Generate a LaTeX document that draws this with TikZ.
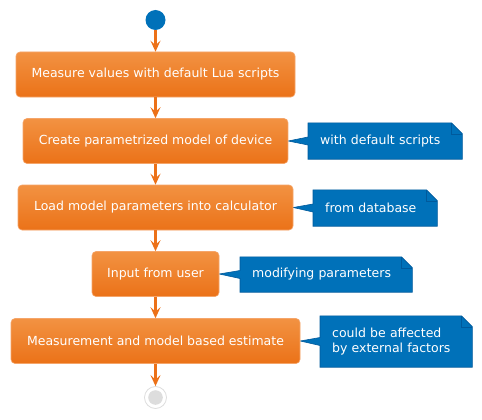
\documentclass[tikz,border=0pt]{standalone}
\usepackage{fontspec}
\setmainfont{DejaVu Sans}
\usepackage{xcolor}
\usepackage{tikz}
\usetikzlibrary{arrows.meta}
\usetikzlibrary{backgrounds}

\definecolor{boxtop}{HTML}{F29242}
\definecolor{boxbot}{HTML}{EB7218}
\definecolor{boxline}{HTML}{F5A56A}
\definecolor{flow}{HTML}{EC7118}
\definecolor{notefill}{HTML}{0071B9}
\definecolor{noteline}{HTML}{005A9C}
\definecolor{endgray}{HTML}{DDDDDD}

\tikzset{
    action/.style = {rectangle, rounded corners = 4pt, draw = boxline, line width = 0.6pt,
        top color = boxtop, bottom color = boxbot, text = white,
        font = \fontsize{12.5}{14}\selectfont, minimum height = 45pt},
    notebox/.style = {rectangle, inner xsep = 12pt, align = left, text = white,
        font = \fontsize{12.5}{15}\selectfont, anchor = west},
    flowarrow/.style = {draw = flow, line width = 2.6pt,
        -{Stealth[length = 11pt, width = 10pt, inset = 4.5pt]}}
}

\begin{document}
\begin{tikzpicture}[x = 1pt, y = -1pt]
            \useasboundingbox (0, 0) rectangle (482, 420);

            % start and stop
            \node[circle, fill = notefill, minimum size = 20pt, inner sep = 0pt] (start) at (155.5, 20) {};
            \node[circle, draw = endgray, line width = 0.8pt, minimum size = 22pt, inner sep = 0pt] (stop) at (155.5, 397.5) {};
            \fill[endgray] (stop) circle (7.3pt);

            % activities
            \node[action, minimum width = 279pt] (measure) at (155.5, 74.5) {Measure values with default Lua scripts};
            \node[action, minimum width = 265pt] (model) at (155.5, 141) {Create parametrized model of device};
            \node[action, minimum width = 275pt] (load) at (155.5, 207.5) {Load model parameters into calculator};
            \node[action, minimum width = 127pt] (input) at (155.5, 274) {Input from user};
            \node[action, minimum width = 289pt] (estimate) at (155.5, 341) {Measurement and model based estimate};

            \draw[flowarrow] (start) -- (measure);
            \draw[flowarrow] (measure) -- (model);
            \draw[flowarrow] (model) -- (load);
            \draw[flowarrow] (load) -- (input);
            \draw[flowarrow] (input) -- (estimate);
            \draw[flowarrow] (estimate) -- (stop);

            % notes
            \node[notebox, text width = 130pt, minimum height = 36pt] (scripts) at (308, 141) {with default scripts};
            \node[notebox, text width = 100pt, minimum height = 36pt] (database) at (313, 208) {from database};
            \node[notebox, text width = 148pt, minimum height = 35pt] (params) at (240, 274.5) {modifying parameters};
            \node[notebox, text width = 128pt, minimum height = 51pt] (factors) at (320, 341.5) {could be affected\\by external factors};

            \begin{scope}[on background layer]
            \foreach \act/\note in {model/scripts, load/database, input/params, estimate/factors} {
                \filldraw[fill = notefill, draw = noteline, line width = 0.6pt]
                    (\note.north west) -- ([xshift = -11pt]\note.north east)
                    -- ([yshift = -11pt]\note.north east) -- (\note.south east)
                    -- (\note.south west) -- ([yshift = -4pt]\note.west)
                    -- (\act.east) -- ([yshift = 4pt]\note.west) -- cycle;
                \draw[noteline, line width = 0.6pt] ([xshift = -11pt]\note.north east)
                    -- ([xshift = -11pt, yshift = -11pt]\note.north east)
                    -- ([yshift = -11pt]\note.north east);
            }
            \end{scope}
        \end{tikzpicture}
\end{document}
